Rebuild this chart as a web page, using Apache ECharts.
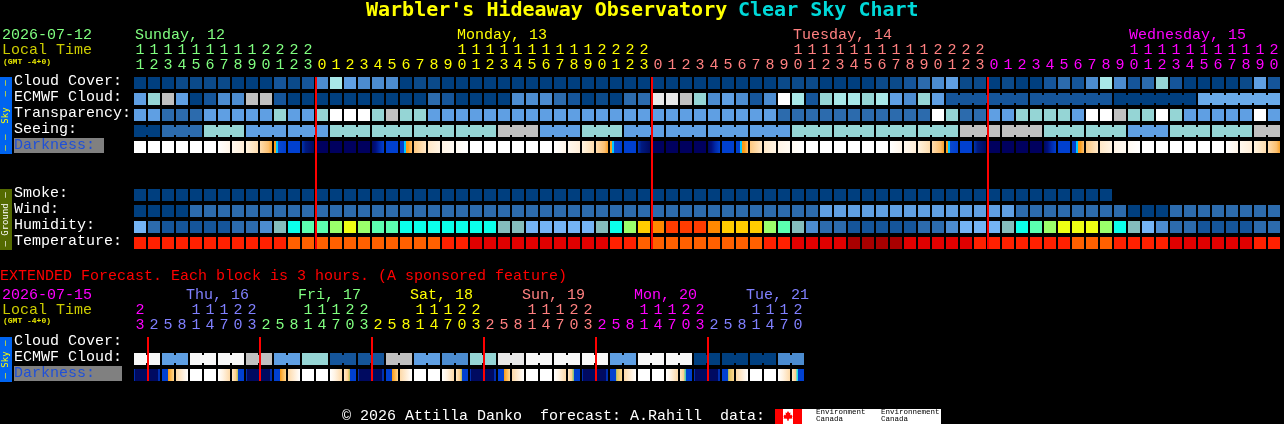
<!DOCTYPE html>
<html><head><meta charset="utf-8">
<style>html,body{margin:0;padding:0;background:#000;overflow:hidden}#c{width:1284px;height:424px}</style>
<script src="https://cdn.jsdelivr.net/npm/echarts@6/dist/echarts.min.js"></script>
</head><body><div id="c"></div>
<script>
// ---------- data ----------
const hours = [11,12,13,14,15,16,17,18,19,20,21,22,23,
 0,1,2,3,4,5,6,7,8,9,10,11,12,13,14,15,16,17,18,19,20,21,22,23,
 0,1,2,3,4,5,6,7,8,9,10,11,12,13,14,15,16,17,18,19,20,21,22,23,
 0,1,2,3,4,5,6,7,8,9,10,11,12,13,14,15,16,17,18,19,20];
const extHours = [23,2,5,8,11,14,17,20,23,2,5,8,11,14,17,20,23,2,5,8,11,14,17,20,23,2,5,8,11,14,17,20,23,2,5,8,11,14,17,20,23,2,5,8,11,14,17,20];
const rowNames = ['Cloud Cover:','ECMWF Cloud:','Transparency:','Seeing:','Darkness:','','','Smoke:','Wind:','Humidity:','Temperature:'];
const extRowNames = ['Cloud Cover:','ECMWF Cloud:','Darkness:'];
const dayNames = ['Sunday, 12','Monday, 13','Tuesday, 14','Wednesday, 15'];
const dayLabelCols = [0,23,47,71];
const dayFirstCols = [0,13,37,61];
const extDayNames = ['Thu, 16','Fri, 17','Sat, 18','Sun, 19','Mon, 20','Tue, 21'];
const extDayLabelCols = [4,12,20,28,36,44];
const extDayFirstCols = [0,1,9,17,25,33,41];
const midnightCols = [13,37,61];
const extMidnightCols = [1,9,17,25,33,41];

const cloudCover = [...'aaabbbbaaacbceifeeeabb'+'aaaaaaaaaaaaaaaaaaaaaaaa'+'bbbaaaa'+'bbcdefbbabaacdceiecdhcaaaabfc'];
const ecmwfCloud = [...'fhjfaceejjc'+'aaaaaaaaaa'+'dcaaaaeeedcabadd'+'kkjhefece'+'lichiihifehf'+'cccccccccccc'+'aaaaaa'+'mmmmmm'];
const transparency = [...'ffdddfffffhffhlllhjhh'+'fffffffffffffffffffffffff'+'ddddddddddd'+'lhddffhhhhflljhhlhfffffl'+'f'];
const seeingBlocks = ['a','d','h','f','f','h','h','h','h','j','f','h','f','f','f','f','h','h','h','h','j','j','h','h','f','h','h','j'];
const darkness = [...'WWWWWWACEGSBNDDDDMBRPQHI'+'WWWWWWACEGSBNDDDDMBRPQHI'+'WWWWWWACEGSBNDDDDMBRPQHI'+'WWWWWWACEG'];
const smoke = [...'aaaaaaaaaaaaaaaaaaaaaaaaaaaaaaaaaaaaaaaaaaaaaaaaaaaaaaaaaaaaaaaaaaaaaa'];
const wind = [...'aaaa'+'ddddddddddddddddddddddddddddddddddddddddddddd'+'ffffffffffffff'+'dddddddd'+'aaa'+'dddddddd'];
const humidity = [...'gdccccc'+'dde'+'t'+'uvvwxwvvuu'+'uuuuu'+'tt'+'ggggg'+'t'+'u'+'w'+'y'+'z'+'AAA'+'z'+'yyy'+'w'+'v'+'t'+'e'+'dd'+'ccccc'+'dd'+'e'+'ggg'+'t'+'u'+'v'+'w'+'xxx'+'w'+'u'+'t'+'g'+'e'+'dd'+'cccc'+'dd'];
const temperature = [...'RRRRRRRRRRR'+'OOOOOOOOOOO'+'RR'+'EEEEEEEEEE'+'RR'+'OOOOOOOOO'+'RR'+'EEEE'+'DDDD'+'EEEEE'+'RRRRRRR'+'OOO'+'RRRR'+'EEEEEE'+'RR'];
const extEcmwfBlocks = ['n','f','n','n','j','f','h','c','c','j','f','e','h','k','n','n','n','f','n','n','a','a','a','e'];
const extDarkness = [...'XYUVWWJK'+'XYUVWWJK'+'XYUVWWJK'+'XYUVWWJL'+'XYTVWWJZ'+'XYTVWWJ$'];

// ---------- palettes ----------
const palette = {a:'#003f7f',b:'#0b4a8a',c:'#15559a',d:'#2c6bad',e:'#4c8cd0',f:'#5f9fe3',m:'#6aaae8',g:'#74b4f5',
 t:'#84bdbd',h:'#95d5d5',i:'#a8e8e8',j:'#c0c0c0',k:'#e8e8e8',l:'#ffffff',n:'#f7f7f7',
 u:'#0bffea',v:'#5bffb0',w:'#9bff6b',x:'#eeff14',y:'#ffcc00',z:'#ff8800',A:'#ff3c00',
 O:'#ff6000',R:'#ff2000',E:'#e00000',D:'#a80000'};
const G = (...s)=>s;
const darkPalette = {
 W:'#ffffff',
 A:G([0,'#ffffff'],[1,'#fff5e8']), C:G([0,'#fff8ee'],[1,'#ffeed8']), E:G([0,'#fff3e0'],[1,'#fddcae']),
 G:G([0,'#fedcae'],[.7,'#fcc070'],[1,'#f8a22c']),
 S:G([0,'#f8a01c'],[.17,'#f8a01c'],[.17,'#00c8ff'],[.33,'#00c8ff'],[.33,'#0a48d0'],[1,'#0040d0']),
 B:'#0040d0', N:G([0,'#0034b0'],[.3,'#001a80'],[1,'#000a60']), D:'#00005e', M:G([0,'#000a60'],[.3,'#001080'],[.6,'#0028a8'],[1,'#0040d0']),
 R:G([0,'#0040d0'],[.33,'#0040d0'],[.33,'#00c8ff'],[.5,'#00c8ff'],[.5,'#fa9a14'],[.67,'#fa9a14'],[1,'#fdc070']),
 P:G([0,'#fdc880'],[1,'#ffe8c8']), Q:G([0,'#ffe8c8'],[1,'#fff4e4']), H:G([0,'#fff4e6'],[1,'#fffaf2']), I:G([0,'#fffaf2'],[1,'#ffffff']),
 X:G([0,'#0030b0'],[.12,'#0030b0'],[.12,'#000a60'],[1,'#000a60']), Y:G([0,'#000a60'],[.83,'#000a60'],[.83,'#0030b0'],[1,'#0030b0']),
 U:G([0,'#0040d0'],[.5,'#0040d0'],[.5,'#fa9a14'],[.67,'#fdb040'],[1,'#ffd890']),
 T:G([0,'#0040d0'],[.5,'#0040d0'],[.5,'#88c070'],[.6,'#e0c060'],[1,'#ffd890']),
 V:G([0,'#fdd9a8'],[.6,'#fff0dc'],[1,'#ffffff']),
 J:G([0,'#ffffff'],[.4,'#fff3e3'],[1,'#fdd9a8']),
 K:G([0,'#ffe8c8'],[.3,'#fdd090'],[.42,'#e0c060'],[.5,'#90c070'],[.5,'#0040d0'],[1,'#0040d0']),
 L:G([0,'#ffe8c8'],[.3,'#fdd090'],[.42,'#b0c070'],[.5,'#60c890'],[.5,'#0040d0'],[1,'#0040d0']),
 Z:G([0,'#ffe8c8'],[.3,'#fdd090'],[.42,'#70c8a0'],[.5,'#30d0c0'],[.5,'#0040d0'],[1,'#0040d0']),
 $:G([0,'#ffe8c8'],[.3,'#fdd090'],[.42,'#40d8d8'],[.5,'#00e0f0'],[.5,'#0040d0'],[1,'#0040d0'])
};
const dayColours = ['#80ff80','#ffff00','#ff8080','#ff00ff'];
const extDayColours = ['#ff00ff','#8080ff','#80ff80','#ffff00','#ff8080','#ff00ff','#8080ff'];
const FONT = 'Liberation Mono';
const TITLEFONT = 'DejaVu Sans Mono';

// ---------- expansion of blocks to columns ----------
const seeing = seeingBlocks.flatMap((v,i)=> Array(i===0||i===seeingBlocks.length-1 ? 2 : 3).fill(v));
const extEcmwf = extEcmwfBlocks.flatMap(v=>[v,v]);
const seeingJoin = c => { let s=0; for(let i=0;i<seeingBlocks.length;i++){ const n=(i===0||i===seeingBlocks.length-1)?2:3; if(c>=s&&c<s+n) return c<s+n-1; s+=n; } return false; };
const ecmwfJoin = c => c>=58 && c<81 && (c-58)%6!==5;

function fillOf(table,k){
  const v = table[k];
  if(Array.isArray(v)) return new echarts.graphic.LinearGradient(0,0,1,0,v.map(s=>({offset:s[0],color:s[1]})));
  return v;
}
const cells=[], extCells=[];
const push=(arr,list,row,table,joinFn,flatFn)=>list.forEach((k,col)=>arr.push({col,row,k,table,join:joinFn?joinFn(col):false,flat:flatFn?flatFn(col):false}));
push(cells,cloudCover,0,palette);
push(cells,ecmwfCloud,1,palette,ecmwfJoin);
push(cells,transparency,2,palette);
push(cells,seeing,3,palette,seeingJoin);
push(cells,darkness,4,darkPalette);
push(cells,smoke,7,palette);
push(cells,wind,8,palette);
push(cells,humidity,9,palette);
push(cells,temperature,10,palette);
push(extCells,extEcmwf,1,palette,c=>c%2===0,c=>c===12);
push(extCells,extDarkness,2,darkPalette,c=>c%8===0,c=>c%8===0);

function cellSeries(list,xi,yi){
  return {type:'custom',xAxisIndex:xi,yAxisIndex:yi,z:2,silent:true,clip:false,
    data:list.map(c=>[c.col,c.row]),
    renderItem(p,api){
      const c=list[p.dataIndex], pt=api.coord([c.col,c.row]), bw=api.size([1,0])[0], bh=api.size([0,1])[1];
      const fill=fillOf(c.table,c.k), ch=[{type:'rect',shape:{x:pt[0]-bw/2+1,y:pt[1]-bh/2+2,width:bw-2,height:bh-4},style:{fill}}];
      if(c.join){
        const solid = typeof fill==='string'?fill:'#000a60';
        const inset = c.flat?2:4;
        ch.push({type:'rect',shape:{x:pt[0]+bw/2-1,y:pt[1]-bh/2+inset,width:2,height:bh-2*inset},style:{fill:solid}});
      }
      return {type:'group',children:ch};
    }};
}
function lineSeries(colsList,xi,yi,lastRow){
  return {type:'custom',xAxisIndex:xi,yAxisIndex:yi,z:5,silent:true,clip:false,
    data:colsList.map(c=>[c,0]),
    renderItem(p,api){
      const c=colsList[p.dataIndex],bw=api.size([1,0])[0],bh=api.size([0,1])[1];
      const a=api.coord([c,0]),b=api.coord([c,lastRow]);
      return {type:'rect',shape:{x:a[0]-bw/2,y:a[1]-bh/2+2,width:2,height:b[1]-a[1]+bh-4},style:{fill:'#ff0000'}};
    }};
}
function dayLabelSeries(names,cols,colours,xi,yi,dx){
  return {type:'custom',xAxisIndex:xi,yAxisIndex:yi,z:6,silent:true,clip:false,
    data:cols.map(c=>[c,0]),
    renderItem(p,api){
      const i=p.dataIndex,bw=api.size([1,0])[0],bh=api.size([0,1])[1],a=api.coord([cols[i],0]);
      return {type:'text',x:a[0]-bw/2+dx,y:a[1]-bh/2-39.5,style:{text:names[i],fill:colours[i],fontFamily:FONT,fontSize:15,align:'left',verticalAlign:'middle'}};
    }};
}
const colourByCol=(firsts,cols)=>(v,i)=>{let k=0;firsts.forEach((f,j)=>{if(i>=f)k=j;});return cols[k];};
function xAxes(grid,list,firsts,cols){
  const base={type:'category',gridIndex:grid,position:'top',axisLine:{show:false},axisTick:{show:false},splitLine:{show:false}};
  return [
   {...base,data:list.map(h=>String(h%10)),axisLabel:{interval:0,margin:2,fontFamily:FONT,fontSize:15,color:colourByCol(firsts,cols)}},
   {...base,offset:15,data:list.map(h=>h>=10?String(Math.floor(h/10)):''),axisLabel:{interval:0,margin:2,fontFamily:FONT,fontSize:15,color:colourByCol(firsts,cols)}}
  ];
}
function yAxis(grid,names,boxW){
  return {type:'category',gridIndex:grid,inverse:true,data:names,axisLine:{show:false},axisTick:{show:false},splitLine:{show:false},
   axisLabel:{interval:0,align:'left',margin:119,color:'#ffffff',fontFamily:FONT,fontSize:15,padding:[0,0,3,0],
    formatter:v=>v==='Darkness:'?'{d|'+v+'}':v,
    rich:{d:{color:'#1f50d8',backgroundColor:'#808080',width:boxW,height:15,lineHeight:15,fontFamily:FONT,fontSize:15}}}};
}
const txt=(x,y,text,fill,size,extra)=>({type:'text',x,y,silent:true,style:Object.assign({text,fill,fontFamily:FONT,fontSize:size,align:'left',verticalAlign:'middle'},extra||{})});
const strip=(top,h,bg,fg,label)=>[
  {type:'rect',silent:true,shape:{x:0,y:top,width:12,height:h},style:{fill:bg}},
  {type:'text',silent:true,x:6,y:top+h/2,rotation:Math.PI/2,style:{text:label,fill:fg,fontFamily:TITLEFONT,fontSize:9,align:'center',verticalAlign:'middle'}}
];
const leaf=[[788,411],[789.2,413],[790.5,412.5],[790,415.5],[791,414.5],[792.5,416],[792,417.5],[792.5,418.5],[789,418.8],[788.4,421],[787.6,421],[787,418.8],[783.5,418.5],[784,417.5],[783.5,416],[785,414.5],[786,415.5],[785.5,412.5],[786.8,413]];

const option={
 backgroundColor:'#000',animation:false,
 grid:[{left:133,top:75,width:1148,height:176},{left:133,top:335,width:672,height:48}],
 xAxis:[...xAxes(0,hours,dayFirstCols,dayColours),...xAxes(1,extHours,extDayFirstCols,extDayColours)],
 yAxis:[yAxis(0,rowNames,90),yAxis(1,extRowNames,108)],
 series:[cellSeries(cells,0,0),lineSeries(midnightCols,0,0,10),dayLabelSeries(dayNames,dayLabelCols,dayColours,0,0,2),
         cellSeries(extCells,2,1),lineSeries(extMidnightCols,2,1,2),dayLabelSeries(extDayNames,extDayLabelCols,['#8080ff','#80ff80','#ffff00','#ff8080','#ff00ff','#8080ff'],2,1,-3)],
 graphic:{elements:[
  txt(366,11,"Warbler's Hideaway Observatory",'#ffff00',20,{fontWeight:'bold',fontFamily:TITLEFONT}),
  txt(738,11,'Clear Sky Chart','#00d8d8',20,{fontWeight:'bold',fontFamily:TITLEFONT}),
  txt(2,35.5,'2026-07-12','#80ff80',15),
  txt(2,50.5,'Local Time','#cccc00',15),
  txt(3,62,'(GMT -4+0)','#e8e800',8,{fontWeight:'bold'}),
  ...strip(77,77,'#0064f0','#ffff00','\u2013 \u2013  Sky  \u2013 \u2013'),
  ...strip(189,61,'#546a00','#ffffff','\u2013 Ground \u2013'),
  txt(0,276.5,'EXTENDED Forecast. Each block is 3 hours. (A sponsored feature)','#ff0000',15),
  txt(2,295.5,'2026-07-15','#ff00ff',15),
  txt(2,310.5,'Local Time','#cccc00',15),
  txt(3,321,'(GMT -4+0)','#e8e800',8,{fontWeight:'bold'}),
  ...strip(337,45,'#0064f0','#ffff00','\u2013 Sky \u2013'),
  txt(342,416.5,'\u00a9 2026 Attilla Danko  forecast: A.Rahill  data:','#ffffff',15),
  {type:'rect',silent:true,shape:{x:775,y:409,width:166,height:15},style:{fill:'#ffffff'}},
  {type:'rect',silent:true,shape:{x:775,y:409,width:8,height:15},style:{fill:'#ff0000'}},
  {type:'rect',silent:true,shape:{x:793,y:409,width:9,height:15},style:{fill:'#ff0000'}},
  {type:'polygon',silent:true,shape:{points:leaf},style:{fill:'#ff0000'}},
  txt(816,412,'Environment','#000000',7.5),
  txt(816,419,'Canada','#000000',7.5),
  txt(881,412,'Environnement','#000000',7.5),
  txt(881,419,'Canada','#000000',7.5)
 ]}
};
const chart=echarts.init(document.getElementById('c'),null,{renderer:'canvas',devicePixelRatio:1});
chart.setOption(option);
</script></body></html>
